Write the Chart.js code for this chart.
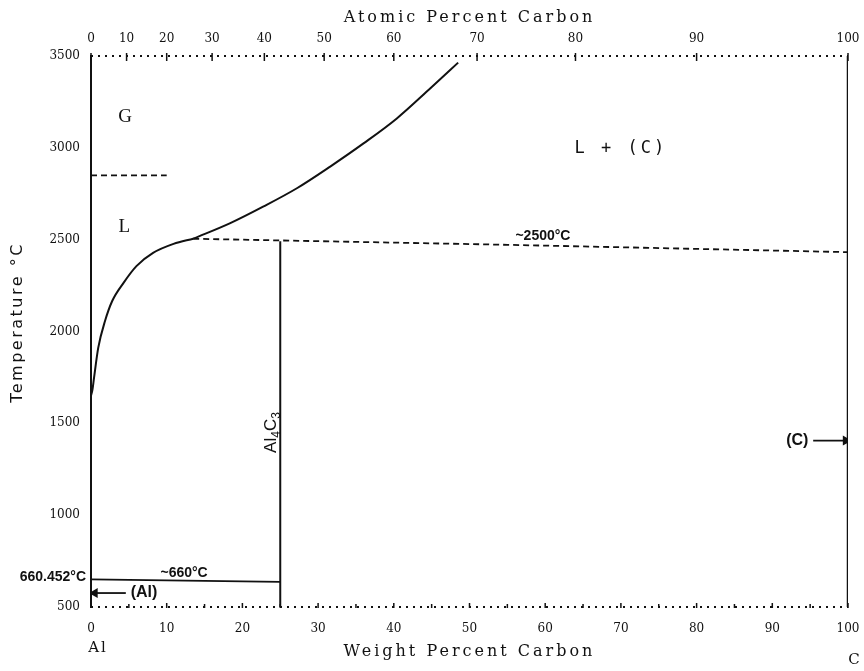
<!DOCTYPE html>
<html>
<head>
<meta charset="utf-8">
<script src="https://cdn.jsdelivr.net/npm/chart.js@4.4.1/dist/chart.umd.min.js"></script>
<style>
  html, body { margin: 0; padding: 0; background: #fff; }
</style>
</head>
<body>
<canvas id="myChart" width="864" height="671"></canvas>
<script>
// Al-C phase diagram: temperature against weight percent carbon
const weightTicks = [0, 10, 20, 30, 40, 50, 60, 70, 80, 90, 100];
const atomicLabels = ['0', '10', '20', '30', '40', '50', '60', '70', '80', '90', '100'];
const atomicAtWeight = [0, 4.7, 10.0, 16.0, 22.9, 30.8, 40.0, 51.0, 64.0, 80.0, 100];
const tempTicks = [500, 1000, 1500, 2000, 2500, 3000, 3500];

// liquidus on the Al side, up to the ~2500 C reaction
const liqLowWt = [0, 0.2, 0.4, 0.96, 1.85, 2.8, 4.3, 6.0, 8.2, 10.9, 13.5];
const liqLowTemp = [1650, 1685, 1748, 1912, 2057, 2166, 2265, 2356, 2428, 2477, 2505];
// liquidus above the reaction (L / L + (C))
const liqHighWt = [13.5, 18.4, 22.8, 27.2, 31.6, 36.0, 40.4, 44.8, 48.5];
const liqHighTemp = [2505, 2590, 2681, 2780, 2898, 3024, 3160, 3323, 3464];

// other boundaries
const boilWt = [0, 10];
const boilTemp = [2850, 2850];
const reactWt = [13.5, 55, 100];
const reactTemp = [2505, 2472, 2432];
const al4c3Wt = [25, 25];
const al4c3Temp = [500, 2492];
const eutWt = [0, 25];
const eutTemp = [650, 637];
const carbonWt = [100, 100];
const carbonTemp = [500, 3500];

// arrows pointing at the terminal solid solutions
const alArrowWt = [0.5, 4.6];
const alArrowTemp = [576, 576];
const cArrowWt = [95.4, 99.7];
const cArrowTemp = [1406, 1406];

function pts(xs, ys) {
    return xs.map((x, i) => ({ x: x, y: ys[i] }));
}

const ink = '#111';

function lineSet(xs, ys, extra) {
    return Object.assign({
        data: pts(xs, ys),
        showLine: true,
        borderColor: ink,
        borderWidth: 2,
        pointRadius: 0,
        fill: false
    }, extra || {});
}

// text placed in data coordinates
const notes = [
    { text: 'G', x: 4.5, y: 3170, font: '19px "Liberation Serif"' },
    { text: 'L', x: 4.4, y: 2567, font: '19px "Liberation Serif"' },
    { text: 'L + (C)', x: 70.0, y: 2995, font: '17px "DejaVu Sans Mono"', spacing: '3px' },
    { text: '~2500°C', x: 59.7, y: 2518, font: 'bold 14px "Liberation Sans"' },
    { text: '~660°C', x: 12.3, y: 682, font: 'bold 14px "Liberation Sans"' },
    { text: '(Al)', x: 7.0, y: 576, font: 'bold 16px "Liberation Sans"' },
    { text: '(C)', x: 93.3, y: 1406, font: 'bold 16px "Liberation Sans"' }
];

const textPlugin = {
    id: 'textPlugin',
    beforeDatasetsDraw(chart) {
        // dotted top and bottom frame with small tick marks
        const ctx = chart.ctx;
        const xs = chart.scales.x;
        const area = chart.chartArea;
        ctx.save();
        ctx.strokeStyle = ink;
        ctx.lineWidth = 2;
        ctx.setLineDash([2, 5]);
        [area.top, area.bottom].forEach(yy => {
            ctx.beginPath();
            ctx.moveTo(area.left, yy);
            ctx.lineTo(area.right, yy);
            ctx.stroke();
        });
        ctx.setLineDash([]);
        ctx.lineWidth = 1.5;
        for (let v = 0; v <= 100; v += 5) {
            const px = xs.getPixelForValue(v);
            ctx.beginPath();
            ctx.moveTo(px, area.bottom + 1);
            ctx.lineTo(px, area.bottom - (v % 10 === 0 ? 4 : 3));
            ctx.stroke();
        }
        atomicAtWeight.forEach(w => {
            const px = xs.getPixelForValue(w);
            ctx.beginPath();
            ctx.moveTo(px, area.top - 3);
            ctx.lineTo(px, area.top + 5);
            ctx.stroke();
        });
        ctx.restore();
    },
    afterDraw(chart) {
        const ctx = chart.ctx;
        const xs = chart.scales.x, ys = chart.scales.y;
        const area = chart.chartArea;
        ctx.save();
        ctx.fillStyle = ink;

        ctx.textAlign = 'center';
        ctx.textBaseline = 'middle';
        notes.forEach(n => {
            ctx.font = n.font;
            ctx.letterSpacing = n.spacing || '0px';
            ctx.fillText(n.text, xs.getPixelForValue(n.x), ys.getPixelForValue(n.y));
        });
        ctx.letterSpacing = '0px';

        // Al4C3, written upwards beside its line
        ctx.save();
        ctx.translate(xs.getPixelForValue(23.6), ys.getPixelForValue(1450));
        ctx.rotate(-Math.PI / 2);
        ctx.textAlign = 'left';
        ctx.textBaseline = 'alphabetic';
        const big = '17px "Liberation Sans"', small = '12px "Liberation Sans"';
        ctx.font = big;
        let w = ctx.measureText('Al').width + ctx.measureText('C').width;
        ctx.font = small;
        w += ctx.measureText('4').width + ctx.measureText('3').width;
        let cx = -w / 2;
        [['Al', big, 0], ['4', small, 4], ['C', big, 0], ['3', small, 4]].forEach(p => {
            ctx.font = p[1];
            ctx.fillText(p[0], cx, 6 + p[2]);
            cx += ctx.measureText(p[0]).width;
        });
        ctx.restore();

        // melting point of Al at the axis
        ctx.font = 'bold 14px "Liberation Sans"';
        ctx.textAlign = 'right';
        ctx.fillText('660.452°C', area.left - 5, ys.getPixelForValue(660.452));

        // axis titles
        ctx.textAlign = 'center';
        ctx.font = '16px "DejaVu Serif"';
        ctx.letterSpacing = '3px';
        const midX = (area.left + area.right) / 2;
        ctx.fillText('Atomic Percent Carbon', midX, 18);
        ctx.fillText('Weight Percent Carbon', midX, area.bottom + 45);
        ctx.font = '16px "DejaVu Sans"';
        ctx.letterSpacing = '2.5px';
        ctx.save();
        ctx.translate(18, (area.top + area.bottom) / 2 - 9);
        ctx.rotate(-Math.PI / 2);
        ctx.fillText('Temperature °C', 0, 0);
        ctx.restore();

        // element names at the ends of the composition axis
        ctx.font = '15px "DejaVu Serif"';
        ctx.letterSpacing = '2px';
        ctx.fillText('Al', xs.getPixelForValue(0) + 7, area.bottom + 41);
        ctx.letterSpacing = '0px';
        ctx.fillText('C', xs.getPixelForValue(100) + 6, area.bottom + 53);
        ctx.restore();
    }
};

const tickFont = { family: 'DejaVu Serif', size: 12 };

// fixed box sizes so the plot area sits where the original frame is
function fixHeight(h) {
    return s => { s.height = h; s.paddingLeft = 0; s.paddingRight = 0; };
}

const ctx = document.getElementById('myChart').getContext('2d');
const myChart = new Chart(ctx, {
    type: 'scatter',
    data: {
        datasets: [
            lineSet(liqLowWt, liqLowTemp, { cubicInterpolationMode: 'monotone' }),
            lineSet(liqHighWt, liqHighTemp, { cubicInterpolationMode: 'monotone' }),
            lineSet(boilWt, boilTemp, { borderDash: [6, 4], borderWidth: 1.8 }),
            lineSet(reactWt, reactTemp, { borderDash: [6, 4], borderWidth: 1.8 }),
            lineSet(al4c3Wt, al4c3Temp),
            lineSet(eutWt, eutTemp, { borderWidth: 1.8 }),
            lineSet(carbonWt, carbonTemp, { borderWidth: 2.5 }),
            lineSet(alArrowWt, alArrowTemp, {
                borderWidth: 1.8, pointRadius: [4, 0], pointStyle: 'triangle',
                rotation: 270, pointBackgroundColor: ink, pointBorderColor: ink
            }),
            lineSet(cArrowWt, cArrowTemp, {
                borderWidth: 1.8, pointRadius: [0, 4], pointStyle: 'triangle',
                rotation: 90, pointBackgroundColor: ink, pointBorderColor: ink
            })
        ]
    },
    options: {
        responsive: false,
        animation: false,
        layout: { padding: { left: 0, right: 16, top: 0, bottom: 0 } },
        plugins: {
            legend: { display: false },
            tooltip: { enabled: false }
        },
        scales: {
            x: {
                type: 'linear',
                position: 'bottom',
                min: 0,
                max: 100,
                afterBuildTicks: s => { s.ticks = weightTicks.map(v => ({ value: v })); },
                afterFit: fixHeight(64),
                grid: { display: false },
                border: { display: false },
                ticks: { font: tickFont, color: ink, padding: 7, maxRotation: 0, autoSkip: false }
            },
            x2: {
                type: 'linear',
                position: 'top',
                min: 0,
                max: 100,
                afterBuildTicks: s => { s.ticks = atomicAtWeight.map(v => ({ value: v })); },
                afterFit: fixHeight(56),
                grid: { display: false },
                border: { display: false },
                ticks: {
                    font: tickFont, color: ink, padding: 2, maxRotation: 0, autoSkip: false,
                    callback: (v, i) => atomicLabels[i]
                }
            },
            y: {
                type: 'linear',
                min: 500,
                max: 3500,
                afterBuildTicks: s => { s.ticks = tempTicks.map(v => ({ value: v })); },
                afterFit: s => { s.width = 91; },
                grid: { display: false },
                border: { display: true, color: ink, width: 2 },
                ticks: { font: tickFont, color: ink, padding: 3, callback: v => String(v) }
            }
        }
    },
    plugins: [textPlugin]
});
</script>
</body>
</html>
